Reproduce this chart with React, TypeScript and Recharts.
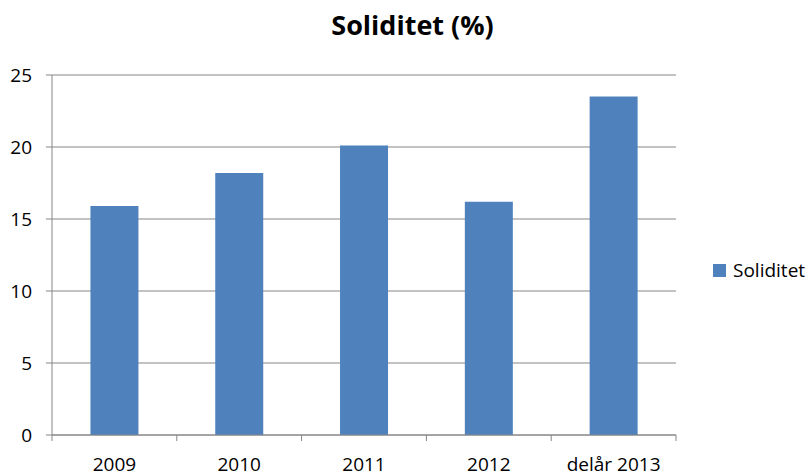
import React from "react";
import { BarChart, Bar, XAxis, YAxis, CartesianGrid, Legend } from "recharts";

const categories = ["2009", "2010", "2011", "2012", "delår 2013"];
const soliditet = [15.9, 18.2, 20.1, 16.2, 23.5];
const yTicks = [0, 5, 10, 15, 20, 25];
const boundaryTicks = [0, 1, 2, 3, 4, 5];

const data = categories.map((name, i) => ({ name, Soliditet: soliditet[i] }));

const FONT = "'Open Sans', sans-serif";
const GRAY = "#868686";
const BLUE = "#4F81BD";

const LegendContent = () => (
  <div style={{ display: "flex", alignItems: "center", fontFamily: FONT, fontSize: 19, color: "#000" }}>
    <span style={{ display: "inline-block", width: 13, height: 13, background: BLUE, marginRight: 7 }} />
    <span>Soliditet</span>
  </div>
);

const EmptyTick = () => <g />;

export default function App() {
  return (
    <div style={{ position: "absolute", left: 0, top: 0, width: 811, height: 475, background: "#fff" }}>
      <div
        style={{
          position: "absolute",
          left: 0,
          width: 825,
          top: 6,
          textAlign: "center",
          fontFamily: FONT,
          fontWeight: 700,
          fontSize: 27,
          color: "#000",
        }}
      >
        Soliditet (%)
      </div>
      <BarChart
        width={811}
        height={475}
        data={data}
        margin={{ top: 75, right: 37, bottom: 0, left: 0 }}
        barCategoryGap="30.8%"
      >
        <CartesianGrid horizontal vertical={false} stroke={GRAY} strokeWidth={1} />
        <XAxis
          xAxisId={0}
          dataKey="Soliditet"
          type="number"
          domain={[0, 5]}
          ticks={boundaryTicks}
          allowDataOverflow
          tick={EmptyTick}
          tickSize={6}
          tickLine={{ stroke: GRAY }}
          axisLine={{ stroke: GRAY }}
          height={1}
        />
        <XAxis
          xAxisId="cat"
          dataKey="name"
          tickLine={false}
          axisLine={false}
          height={39}
          tickMargin={16}
          tick={{ fontFamily: FONT, fontSize: 19, fill: "#000" }}
          interval={0}
        />
        <YAxis
          domain={[0, 25]}
          ticks={yTicks}
          width={52}
          tickSize={6}
          tickMargin={14}
          tickLine={{ stroke: GRAY }}
          axisLine={{ stroke: GRAY }}
          tick={{ fontFamily: FONT, fontSize: 19, fill: "#000" }}
        />
        <Legend
          content={<LegendContent />}
          layout="vertical"
          align="right"
          verticalAlign="middle"
          wrapperStyle={{ left: 713, top: 257, width: 98 }}
        />
        <Bar xAxisId="cat" dataKey="Soliditet" fill={BLUE} isAnimationActive={false} />
      </BarChart>
    </div>
  );
}
